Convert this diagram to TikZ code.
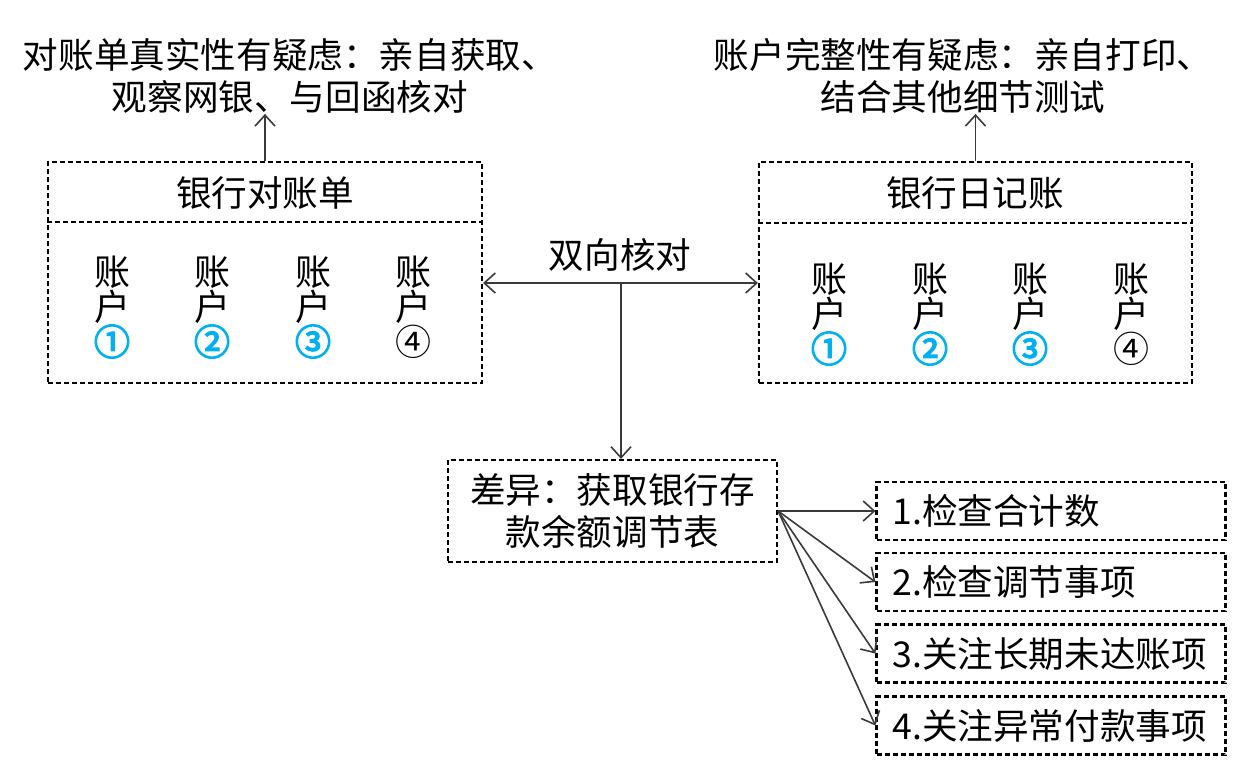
\documentclass[tikz,border=0pt]{standalone}
\usepackage{fontspec}
\usetikzlibrary{positioning,arrows.meta}
\setmainfont{Noto Sans CJK SC}
\newfontfamily\boldnum{Noto Sans CJK SC}[FakeBold=4]
\definecolor{acctblue}{HTML}{00B0F0}
\definecolor{linegray}{HTML}{3A3A3A}
\newcommand{\bluenum}[1]{\textcolor{acctblue}{\boldnum #1}}

\begin{document}
\begin{tikzpicture}[x=0.5pt,y=-0.5pt,
    >={Straight Barb[length=5.5pt,width=10pt]},
    box/.style={draw, line width=1.1pt, dash pattern=on 2.5pt off 1.5pt},
    txt/.style={font=\fontsize{17.8}{21}\selectfont, align=center, inner sep=0pt},
    acct/.style={txt, font=\fontsize{18}{17.5}\selectfont},
    item/.style={box, txt, align=left, text width=158.5pt, inner xsep=8pt,
      minimum height=29pt},
    conn/.style={->, draw=linegray, line width=0.8pt}]

    \useasboundingbox (0,0) rectangle (1249,766);

    % the two ledgers
    \node[box, minimum width=217pt, minimum height=110.5pt] (stmt) at (265,272.5) {};
    \node[box, minimum width=216.5pt, minimum height=110.5pt] (jrnl) at (975.5,272.5) {};
    \draw[box] (stmt.west |- 0,222) -- (stmt.east |- 0,222);
    \draw[box] (jrnl.west |- 0,223) -- (jrnl.east |- 0,223);
    \node[txt] (stmthd) at (265,193) {银行对账单};
    \node[txt] (jrnlhd) at (975,193) {银行日记账};

    \foreach \x/\d [count=\i] in {112/{\bluenum{①}}, 212/{\bluenum{②}},
        313/{\bluenum{③}}, 413/{④}}
      \node[acct] (sa\i) at (\x,307) {账\\户\\\d};
    \foreach \x/\d [count=\i] in {829/{\bluenum{①}}, 930/{\bluenum{②}},
        1030/{\bluenum{③}}, 1131/{④}}
      \node[acct] (ja\i) at (\x,314) {账\\户\\\d};

    % doubts
    \node[txt] (note1) at (290,76) {对账单真实性有疑虑：亲自获取、\\观察网银、与回函核对};
    \node[txt] (note2) at (963,76) {账户完整性有疑虑：亲自打印、\\结合其他细节测试};
    \draw[conn] (stmt.north) -- (stmt.north |- note1.south);
    \draw[conn] (jrnl.north) -- (jrnl.north |- note2.south);

    % two-way check
    \coordinate (mid) at (621,283);
    \draw[conn, <->] (stmt.east |- mid) -- (jrnl.west |- mid);
    \node[txt] (chk) at (620,255) {双向核对};

    % difference and follow-up
    \node[box, txt, minimum width=164.5pt, minimum height=51pt] (diff) at (612.5,511)
      {差异：获取银行存\\款余额调节表};
    \draw[conn] (mid) -- (mid |- diff.north);

    \node[item] (it1) at (1051,511) {1.检查合计数};
    \node[item] (it2) at (1051,582) {2.检查调节事项};
    \node[item] (it3) at (1051,653.5) {3.关注长期未达账项};
    \node[item] (it4) at (1051,725.5) {4.关注异常付款事项};
    \foreach \i in {1,...,4}
      \draw[conn] (diff.east) -- (it\i.west);
\end{tikzpicture}
\end{document}
